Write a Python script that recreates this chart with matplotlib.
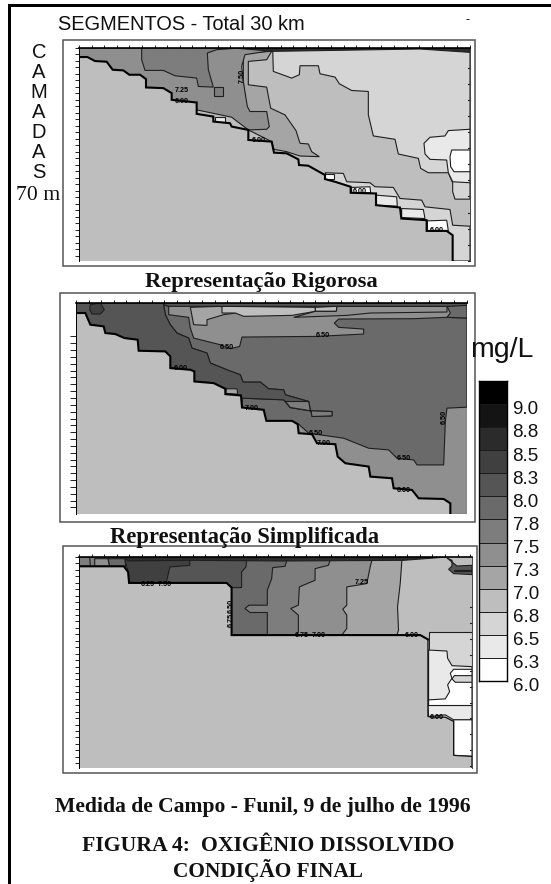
#!/usr/bin/env python3
"""Dissolved oxygen sections, Funil reservoir: three contour panels and a grey scale."""
import matplotlib
matplotlib.use("Agg")
import matplotlib.pyplot as plt
from matplotlib.colors import BoundaryNorm, ListedColormap
from matplotlib.patches import Rectangle
import numpy as np

W, H = 551, 884

# oxygen classes of the scale, mg/L
LEVELS = [6.0, 6.25, 6.5, 6.75, 7.0, 7.25, 7.5, 7.75, 8.0, 8.25, 8.5, 8.75, 9.0, 9.25]
SHADES = ["#ffffff", "#e9e9e9", "#d5d5d5", "#bebebe", "#a5a5a5", "#8f8f8f", "#7d7d7d",
          "#6a6a6a", "#555555", "#404040", "#2b2b2b", "#141414", "#000000"]
LEVEL_LABELS = ["6.0", "6.3", "6.5", "6.8", "7.0", "7.3", "7.5", "7.8", "8.0", "8.3", "8.5", "8.8", "9.0"]

# all section outlines are in reading units of the scan (x along the reservoir, y down)
# --- top panel
BED_1 = [(237,172),(262,172),(285,184),(320,186),(338,210),(370,212),(388,225),(420,225),(438,238),(438,263),
         (490,265),(515,280),(515,300),(590,308),(590,342),(640,350),(640,365),(690,370),(695,380),(745,390),
         (745,420),(815,425),(822,458),(860,460),(895,478),(897,495),(925,497),(975,525),(975,537),(1005,545),(1052,560),
         (1052,578),(1128,580),(1128,615),(1200,622),(1204,655),(1280,660),(1280,692),(1340,692),(1358,705),(1358,782)]
REGIONS_1 = [
    (6.6, [(818,145),(1410,145),(1410,597),(1365,597),(1358,575),(1358,548),(1345,518),(1285,518),(1262,505),(1255,475),
           (1195,462),(1185,418),(1120,408),(1105,345),(1105,275),(1055,272),(1018,252),(1005,232),(960,222),(955,198),
           (900,198),(898,225),(875,235),(820,215)]),
    (6.6, [(975,518),(1030,520),(1040,545),(1110,548),(1125,560),(1180,562),(1200,595),(1265,600),(1275,620),(1350,628),
           (1358,675),(1410,678),(1410,782),(1340,782),(1000,560)]),
    (6.4, [(1410,388),(1345,392),(1335,408),(1290,412),(1272,430),(1275,462),(1290,478),(1340,480),(1345,518),(1358,545),(1410,548)]),
    (6.1, [(1410,450),(1355,450),(1350,470),(1352,500),(1362,515),(1410,515)]),
    (6.4, [(1128,585),(1190,590),(1192,618),(1130,616)]),
    (6.4, [(1205,625),(1270,628),(1275,655),(1205,652)]),
    (6.1, [(975,523),(1003,523),(1003,537),(975,537)]),
    (6.1, [(1055,562),(1110,560),(1112,578),(1055,578)]),
    (6.1, [(1282,662),(1340,660),(1345,692),(1282,692)]),
    (7.1, [(730,160),(815,155),(800,180),(745,185),(745,255),(800,262),(812,325),(855,345),(888,392),(900,430),(925,432),
           (935,455),(958,470),(900,468),(860,455),(822,448),(815,425),(745,390),(730,250)]),
    (7.4, [(237,145),(820,145),(820,152),(735,165),(725,200),(730,245),(742,320),(750,335),(800,335),(808,380),(800,388),
           (745,390),(695,352),(590,330),(515,300),(237,300)]),
    (7.6, [(425,145),(720,145),(650,150),(622,160),(625,210),(640,262),(595,260),(590,235),(525,228),(490,212),(435,212),(425,180)]),
    (7.6, [(643,262),(670,262),(670,290),(643,290)]),
    (6.4, [(645,352),(675,352),(675,367),(645,367)]),
    (8.6, [(700,145),(1410,145),(1410,158),(1260,148),(820,155)]),
]
LABELS_1 = [(545,272,"7.25",0),(545,305,"6.00",0),(775,422,"6.00",0),(1080,575,"6.00",0),(1310,692,"6.00",0),(727,230,"7.50",90)]

# --- middle panel
BED_2 = [(77,85),(105,85),(120,120),(160,125),(165,145),(195,148),(222,160),(262,165),(265,198),(345,200),(360,215),
         (360,250),(420,255),(432,260),(432,290),(490,295),(525,312),(525,328),(572,332),(575,368),(640,375),(648,408),
         (725,408),(742,418),(745,445),(785,448),(800,475),(855,478),(862,515),(885,535),(955,545),(960,575),(1025,580),
         (1030,610),(1085,615),(1105,640),(1180,642),(1200,655),(1200,687)]
REGIONS_2 = [
    (7.4, [(77,55),(1250,55),(1250,687),(77,687)]),
    (7.8, [(1250,100),(1190,98),(1090,102),(865,103),(852,115),(865,128),(940,133),(940,148),(800,155),(575,157),(568,185),
           (540,192),(510,180),(430,160),(420,130),(415,98),(355,90),(355,65),(340,60),(345,90),(360,120),(380,145),(415,160),
           (425,190),(470,205),(480,235),(530,255),(570,270),(578,292),(630,292),(655,312),(700,315),(705,330),(775,350),
           (780,378),(845,380),(845,393),(785,395),(782,378),(720,368),(700,345),(575,340),(575,368),(640,375),(648,408),
           (725,408),(745,418),(775,445),(880,460),(955,490),(1015,495),(1040,520),(1090,525),(1100,540),(1180,540),
           (1185,410),(1190,370),(1250,367)]),
    (8.1, [(77,55),(340,55),(340,60),(345,90),(360,120),(380,145),(415,160),(425,190),(470,205),(480,235),(530,255),
           (570,270),(578,292),(630,292),(655,312),(700,315),(705,330),(775,350),(780,378),(720,368),(700,345),(575,340),
           (525,330),(77,330)]),
    (7.6, [(705,350),(775,350),(780,378),(845,380),(845,393),(785,395),(782,378),(720,368)]),
    (8.3, [(120,60),(150,55),(162,75),(150,88),(125,88),(118,75)]),
    (7.1, [(527,312),(560,312),(562,328),(527,326)]),
    (7.1, [(420,68),(510,65),(555,85),(520,90),(470,105),(470,122),(430,120)]),
    (6.9, [(515,65),(795,68),(795,80),(725,92),(580,95),(555,85),(515,85)]),
    (6.8, [(795,68),(860,65),(858,80),(795,80)]),
    (7.3, [(860,65),(1190,65),(1190,82),(960,85),(890,92),(810,95),(730,98),(795,80),(858,80)]),
    (7.8, [(1190,65),(1250,60),(1250,100),(1190,98),(1200,85)]),
    (8.1, [(340,55),(1250,55),(1250,62),(1190,65),(860,65),(515,65),(420,65),(355,65),(340,60)]),
]
LABELS_2 = [(818,152,"6.50",0),(530,188,"6.50",0),(390,252,"6.00",0),(605,370,"7.00",0),(795,445,"6.50",0),
            (820,475,"7.00",0),(1060,520,"6.50",0),(1182,397,"6.50",90),(1060,617,"6.00",0)]

# --- bottom panel
BED_3 = [(88,168),(222,168),(235,185),(238,218),(530,218),(545,232),(545,375),(1110,375),(1133,388)]
BED_3_RIGHT = [(1133,388),(1133,620),(1145,622),(1185,622),(1210,635),(1210,737),(1265,740),(1265,775)]
REGIONS_3 = [
    (7.1, [(88,140),(1055,140),(1055,150),(1050,220),(1042,290),(1045,360),(1040,375),(88,375)]),
    (7.4, [(88,140),(965,140),(965,150),(960,170),(950,220),(890,230),(890,285),(878,297),(890,315),(890,355),(875,375),(88,375)]),
    (7.6, [(88,140),(840,140),(840,150),(835,165),(795,175),(795,210),(748,230),(745,285),(722,295),(745,315),(745,365),(740,375),(88,375)]),
    (7.8, [(235,140),(710,140),(710,152),(705,168),(668,172),(665,205),(652,240),(652,285),(597,285),(585,295),(600,307),(652,307),(652,375),(235,375)]),
    (8.1, [(235,140),(590,140),(590,150),(588,170),(575,185),(575,215),(575,232),(235,232)]),
    (8.3, [(225,145),(420,145),(420,165),(360,170),(350,215),(350,232),(235,232),(235,185)]),
    (7.6, [(88,140),(120,140),(122,168),(88,168)]),
    (7.4, [(135,145),(175,145),(180,168),(135,168)]),
    (7.8, [(175,145),(225,145),(228,168),(180,168)]),
    (8.6, [(225,140),(1190,140),(1060,150),(700,152),(420,150),(235,152)]),
    (6.6, [(1135,367),(1265,367),(1265,775),(1133,775)]),
    (6.4, [(1135,420),(1190,423),(1192,445),(1205,467),(1265,470),(1265,587),(1135,587)]),
    (6.1, [(1135,570),(1185,567),(1198,545),(1192,525),(1205,505),(1200,490),(1210,478),(1265,478),(1265,587),(1135,587)]),
    (6.6, [(1212,497),(1265,497),(1265,517),(1215,517),(1205,507)]),
    (6.4, [(1133,587),(1265,587),(1265,630),(1210,630),(1185,615),(1135,620)]),
    (6.1, [(1210,630),(1265,630),(1265,740),(1210,737)]),
    (8.1, [(1190,143),(1205,150),(1205,167),(1195,177),(1210,190),(1265,193),(1265,165),(1220,167)]),
    (7.0, [(1212,178),(1265,178),(1265,182),(1212,182)]),
]
LABELS_3 = [(295,222,"6.25",0),(345,222,"7.50",0),(545,288,"6.50",90),(545,330,"6.75",90),(935,218,"7.25",0),
            (755,375,"6.75",0),(805,375,"7.00",0),(1085,375,"6.00",0),(1160,622,"6.00",0)]

TITLE = "SEGMENTOS - Total 30 km"
SIDE_LETTERS = list("CAMADAS")

cmap = ListedColormap(SHADES)
norm = BoundaryNorm(LEVELS, cmap.N)


def axes_px(fig, x0, y0, x1, y1):
    return fig.add_axes([x0 / W, 1 - y1 / H, (x1 - x0) / W, (y1 - y0) / H])


def section(fig, box, inner, limits, bed, regions, labels, y_ticks, right_ticks, tick_len=3.0, bed_thin=None, right_spine=True):
    # box is the frame round the panel, inner the plotting area, both in image pixels
    bg = fig.axes[0]
    bg.add_patch(Rectangle((box[0], box[1]), box[2] - box[0], box[3] - box[1], fc="white", ec="#555555", lw=1.1))
    ax = axes_px(fig, *inner)
    ax.set_xlim(limits[0], limits[1])
    ax.set_ylim(limits[3], limits[2])
    ax.set_facecolor(cmap(norm(6.9)))
    for value, poly in regions:
        xs, ys = zip(*poly)
        ax.fill(xs, ys, fc=cmap(norm(value)), ec="#1e1e1e", lw=0.8, joinstyle="miter")
    outline = list(bed) + list(bed_thin or [])
    bx, by = zip(*outline)
    ax.fill(list(bx) + [limits[0]], list(by) + [limits[3]], fc=cmap(norm(6.9)), ec="none")
    bx, by = zip(*bed)
    ax.plot(bx, by, color="black", lw=1.5, solid_joinstyle="miter")
    if bed_thin:
        bx, by = zip(*bed_thin)
        ax.plot(bx, by, color="#111111", lw=0.9, solid_joinstyle="miter")
    for x, y, s, rot in labels:
        ax.text(x, y, s, fontsize=5.2, fontweight="bold", rotation=rot, ha="center", va="center",
                family="Liberation Sans", color="black")
    ax.set_xticks(np.arange(limits[0], limits[1], 37.8))
    ax.set_yticks(y_ticks)
    ax.tick_params(axis="x", top=True, bottom=False, labeltop=False, labelbottom=False, length=2, width=0.7, color="#222222")
    ax.tick_params(axis="y", left=True, labelleft=False, length=tick_len, width=0.7, color="#222222")
    ax.spines["bottom"].set_visible(False)
    ax.spines["top"].set_linewidth(1.2)
    ax.spines["left"].set_linewidth(0.7)
    ax.spines["right"].set_linewidth(0.7)
    ax.spines["right"].set_color("#444444")
    ax.spines["right"].set_visible(right_spine)
    for y in right_ticks:
        ax.plot([limits[1] - 6, limits[1]], [y, y], color="#222222", lw=0.8, clip_on=False)
    return ax


def main():
    fig = plt.figure(figsize=(W / 100, H / 100), dpi=100)
    bg = fig.add_axes([0, 0, 1, 1])
    bg.set_xlim(0, W)
    bg.set_ylim(H, 0)
    bg.axis("off")

    # page rule
    bg.add_patch(Rectangle((8, 4), 3, H, fc="black", ec="none"))
    bg.add_patch(Rectangle((8, 4), W, 3, fc="black", ec="none"))

    section(fig, (63, 40, 475, 266), (79, 48, 470, 261), (237, 1410, 145, 782), BED_1, REGIONS_1, LABELS_1,
            np.arange(145, 782, 19.4), np.arange(205, 782, 48))
    section(fig, (60, 293, 475, 522), (76, 303, 467, 514), (77, 1250, 55, 687), BED_2, REGIONS_2, LABELS_2,
            np.arange(155, 687, 20.5), [], tick_len=4.5, right_spine=False)
    section(fig, (63, 546, 477, 773), (79, 557, 472, 768), (88, 1265, 140, 775), BED_3, REGIONS_3, LABELS_3,
            np.arange(140, 775, 19.4), np.arange(290, 775, 48), bed_thin=BED_3_RIGHT)

    # grey scale
    cax = axes_px(fig, 479, 381, 507, 681)
    cax.pcolormesh([0, 1], LEVELS, np.array(LEVELS[:-1]).reshape(-1, 1) + 0.1, cmap=cmap, norm=norm,
                   edgecolors="none")
    for lev in LEVELS[1:-1]:
        cax.axhline(lev, color="#1a1a1a", lw=0.7)
    cax.set_xticks([])
    cax.set_yticks([])
    for s in cax.spines.values():
        s.set_linewidth(1.0)
    for lev, lab in zip(LEVELS, LEVEL_LABELS):
        cax.annotate(lab, (1, lev), xycoords=("axes fraction", "data"), xytext=(4, -4.2), textcoords="offset points",
                     fontsize=13.5, family="Liberation Sans", va="center", ha="left", color="#111111")

    sans = "Liberation Sans"
    serif = "Liberation Serif"
    bg.text(58, 24, TITLE, fontsize=14.4, family=sans, va="center", color="#111111")
    bg.text(468, 20, "-", fontsize=9, family=sans, va="center", ha="center")
    for i, ch in enumerate(SIDE_LETTERS):
        bg.text(39, 53 + i * 20, ch, fontsize=14.5, family=sans, va="center", ha="center", color="#111111")
    bg.text(38, 195, "70 m", fontsize=15.7, family=serif, va="center", ha="center", color="#111111")
    bg.text(502, 350, "mg/L", fontsize=20.5, family=sans, va="center", ha="center", color="#111111")
    bold = dict(family=serif, fontweight="bold", va="center", ha="center", color="#111111")
    bg.text(261, 282, "Representação Rigorosa", fontsize=16.2, **bold)
    bg.text(245, 538, "Representação Simplificada", fontsize=16.3, **bold)
    bg.text(263, 807, "Medida de Campo - Funil, 9 de julho de 1996", fontsize=15.6, **bold)
    bg.text(268.5, 846, "FIGURA 4:  OXIGÊNIO DISSOLVIDO", fontsize=15.7, **bold)
    bg.text(268, 871, "CONDIÇÃO FINAL", fontsize=15.4, **bold)

    fig.savefig("out.png", dpi=100)
    plt.close(fig)


if __name__ == "__main__":
    main()
